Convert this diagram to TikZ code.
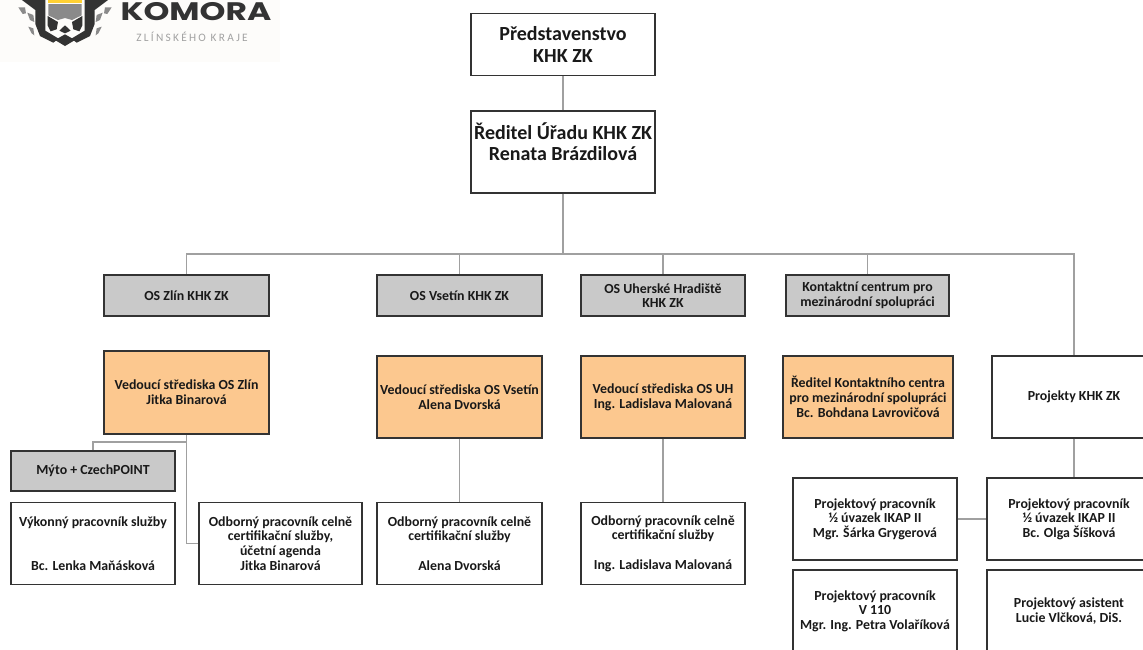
\documentclass[tikz,border=0pt]{standalone}
\usepackage{fontspec}
\setmainfont{Carlito}
\newfontfamily\logofont{Poppins}
\tikzset{
  x=0.75pt,y=-0.75pt,
  sz/.style 2 args={minimum width=#1*0.75pt,minimum height=#2*0.75pt},
  orgbox/.style={draw=boxline,line width=1.1pt,fill=white,inner sep=0pt,align=center,font=\fontsize{10.4}{11}\selectfont\bfseries,text=black!90},
  graybox/.style={orgbox,fill=boxgray},
  orangebox/.style={orgbox,fill=boxorange},
  bigbox/.style={orgbox,font=\fontsize{15}{15.8}\selectfont\bfseries},
  conn/.style={draw=connline,line width=1.1pt},
}
\definecolor{boxline}{HTML}{333333}
\definecolor{boxgray}{HTML}{C9C9C9}
\definecolor{boxorange}{HTML}{FCC88F}
\definecolor{connline}{HTML}{A0A0A0}
\definecolor{logodark}{HTML}{333333}
\definecolor{logogray}{HTML}{8A8A8A}
\definecolor{logobg}{HTML}{FDFCFA}
\newcommand\lionhalf{%
  \fill[logodark] (66,0) -- (136,0) -- (136,92) -- (176,116) -- (160,128) -- (120,108) -- (106,72) -- (106,30) -- cycle;
  \fill[logodark] (143,48) -- (174,66) -- (170,88) -- (152,94) -- (143,76) -- cycle;
  \fill[logogray] (55,22) -- (75,22) -- (78,40) -- (68,42) -- cycle;
  \fill[logogray] (82,38) -- (100,45) -- (103,66) -- (90,60) -- cycle;
  \fill[logogray] (85,80) -- (100,85) -- (103,106) -- (95,100) -- cycle;
}
\begin{document}
\begin{tikzpicture}
\clip (0,0) rectangle (1143,650);
\fill[white] (0,0) rectangle (1143,650);
% logo
\fill[logobg] (0,0) rectangle (280,62);
\begin{scope}[xscale=1/3,yscale=1/3]
  \lionhalf
  \begin{scope}[shift={(390,0)},xscale=-1]\lionhalf\end{scope}
  \fill[logodark] (165,120) -- (195,103) -- (225,120) -- (195,138) -- cycle;
  \fill[logodark] (178,92) -- (195,76) -- (212,92) -- (195,100) -- cycle;
  \fill[logogray] (145,12) -- (245,12) -- (245,46) -- (216,60) -- (195,54) -- (174,60) -- (145,46) -- cycle;
  \fill[orange!45!yellow!80!white] (145,0) rectangle (245,10);
\end{scope}
\node[inner sep=0pt,text=logodark] (logotext) at (196,12) {\logofont\fontsize{19}{19}\selectfont\bfseries\scalebox{1.3}[1]{KOMORA}};
\node[inner sep=0pt,text=logogray!80] (logosub) at (192,37) {\fontsize{8.5}{9}\selectfont\addfontfeature{LetterSpace=20}ZLÍNSKÉHO KRAJE};
% top
\node[bigbox,sz={184}{62}] (pred) at (563,44.5) {Představenstvo\\KHK ZK};
\node[bigbox,sz={184}{82}] (red) at (563,152) {Ředitel Úřadu KHK ZK\\Renata Brázdilová\\\mbox{}};
% gray row
\node[graybox,sz={165}{41}] (oszl) at (186.5,295.5) {OS Zlín KHK ZK};
\node[graybox,sz={165}{41}] (osvs) at (459.5,295.5) {OS Vsetín KHK ZK};
\node[graybox,sz={164}{41}] (osuh) at (663,295.5) {OS Uherské Hradiště\\KHK ZK};
\node[graybox,sz={163}{41}] (kont) at (867.5,295.5) {Kontaktní centrum pro\\mezinárodní spolupráci};
% orange row
\node[orangebox,sz={165}{83}] (vzl) at (186.5,392.5) {Vedoucí střediska OS Zlín\\Jitka Binarová};
\node[orangebox,sz={165}{82}] (vvs) at (459.5,397) {Vedoucí střediska OS Vsetín\\Alena Dvorská};
\node[orangebox,sz={164}{82}] (vuh) at (663,397) {Vedoucí střediska OS UH\\Ing. Ladislava Malovaná};
\node[orangebox,sz={170}{82}] (vko) at (868,397) {Ředitel Kontaktního centra\\pro mezinárodní spolupráci\\Bc. Bohdana Lavrovičová};
\node[orgbox,sz={164}{82}] (proj) at (1074,397) {Projekty KHK ZK};
% bottom left
\node[graybox,sz={164}{40}] (myto) at (93,471) {Mýto + CzechPOINT};
\node[orgbox,sz={164}{82}] (vyk) at (93,543.5) {Výkonný pracovník služby\\\mbox{}\\\mbox{}\\Bc. Lenka Maňásková};
\node[orgbox,sz={163}{82}] (odzl) at (280.5,543.5) {Odborný pracovník celně\\certifikační služby,\\účetní agenda\\Jitka Binarová};
\node[orgbox,sz={165}{82}] (odvs) at (459.5,543.5) {Odborný pracovník celně\\certifikační služby\\\mbox{}\\Alena Dvorská};
\node[orgbox,sz={164}{82}] (oduh) at (663,543.5) {Odborný pracovník celně\\certifikační služby\\\mbox{}\\Ing. Ladislava Malovaná};
% projects
\node[orgbox,sz={164}{82}] (pgr) at (875,519) {Projektový pracovník\\½ úvazek IKAP II\\Mgr. Šárka Grygerová};
\node[orgbox,sz={164}{82}] (psi) at (1069,519) {Projektový pracovník\\½ úvazek IKAP II\\Bc. Olga Šíšková};
\node[orgbox,sz={164}{82}] (pvo) at (875,611) {Projektový pracovník\\V 110\\Mgr. Ing. Petra Volaříková};
\node[orgbox,sz={164}{82}] (pvl) at (1069,611) {Projektový asistent\\Lucie Vlčková, DiS.};
% connectors
\coordinate (bus) at (563,254);
\coordinate (zlj) at (186.5,442);
\draw[conn] (pred.south) -- (red.north);
\draw[conn] (red.south) -- (bus);
\draw[conn] (bus) -| (oszl.north);
\draw[conn] (bus) -| (osvs.north);
\draw[conn] (bus) -| (osuh.north);
\draw[conn] (bus) -| (kont.north);
\draw[conn] (bus) -| (proj.north);
\draw[conn] (vzl.south) |- (odzl.west);
\draw[conn] (zlj) -| (myto.north);
\draw[conn] (vvs.south) -- (odvs.north);
\draw[conn] (vuh.south) -- (oduh.north);
\draw[conn] (proj.south) -- (proj.south |- psi.north);
\draw[conn] (pgr.east) -- (psi.west);
\end{tikzpicture}
\end{document}
